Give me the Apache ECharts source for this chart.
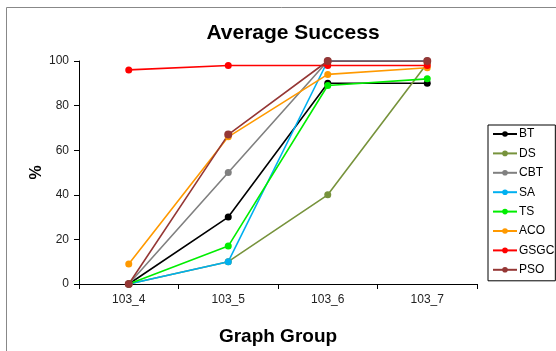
<!DOCTYPE html>
<html>
<head>
<meta charset="utf-8">
<script src="https://cdn.jsdelivr.net/npm/echarts@6/dist/echarts.min.js"></script>
<style>
  html, body { margin: 0; padding: 0; background: #fff; }
  #chart { width: 556px; height: 351px; }
</style>
</head>
<body>
<div id="chart"></div>
<script>
// Graph groups on the x axis
const groups = ['103_4', '103_5', '103_6', '103_7'];

// Average success (%) per algorithm
const BT   = [0, 30, 90, 90];
const DS   = [0, 10, 40, 99];
const CBT  = [0, 50, 100, 100];
const SA   = [0, 10, 100, 100];
const TS   = [0, 17, 89, 92];
const ACO  = [9, 66, 94, 97];
const GSGC = [96, 98, 98, 98];
const PSO  = [0, 67, 100, 100];

const yTicks = [0, 20, 40, 60, 80, 100];

const seriesDefs = [
  { name: 'BT',   data: BT,   color: '#000000' },
  { name: 'DS',   data: DS,   color: '#77933C' },
  { name: 'CBT',  data: CBT,  color: '#808080' },
  { name: 'SA',   data: SA,   color: '#00B0F0' },
  { name: 'TS',   data: TS,   color: '#00EE00' },
  { name: 'ACO',  data: ACO,  color: '#FF9900' },
  { name: 'GSGC', data: GSGC, color: '#FF0000' },
  { name: 'PSO',  data: PSO,  color: '#953735' }
];

const font = 'Liberation Sans, Arial, sans-serif';
const chart = echarts.init(document.getElementById('chart'), null, { renderer: 'canvas' });

chart.setOption({
  animation: false,
  backgroundColor: '#ffffff',
  textStyle: { fontFamily: font },
  grid: { left: 79, right: 79, top: 61, bottom: 66, containLabel: false },
  title: {
    text: 'Average Success',
    left: 288,
    top: 18,
    textAlign: 'center',
    textStyle: { fontFamily: font, fontSize: 21, fontWeight: 'bold', color: '#000' }
  },
  legend: {
    orient: 'vertical',
    left: 488,
    top: 125,
    padding: [3, 1, 5, 4],
    itemGap: 7.4,
    itemWidth: 24,
    itemHeight: 7,
    borderColor: '#000',
    borderWidth: 1,
    textStyle: { fontFamily: font, fontSize: 12, color: '#000', padding: [0, 0, 0, -3] },
    data: seriesDefs.map(s => s.name)
  },
  xAxis: {
    type: 'category',
    data: groups,
    boundaryGap: true,
    name: 'Graph Group',
    nameLocation: 'middle',
    nameGap: 43,
    nameMoveOverlap: false,
    nameTextStyle: { fontFamily: font, fontSize: 19, fontWeight: 'bold', color: '#000' },
    axisLine: { lineStyle: { color: '#000', width: 1 } },
    axisTick: { show: true, length: 5, inside: false, lineStyle: { color: '#000' } },
    axisLabel: { fontFamily: font, fontSize: 12, color: '#222', margin: 10 },
    splitLine: { show: false }
  },
  yAxis: {
    type: 'value',
    min: yTicks[0],
    max: yTicks[yTicks.length - 1],
    interval: yTicks[1] - yTicks[0],
    name: '%',
    nameLocation: 'middle',
    nameGap: 34,
    nameMoveOverlap: false,
    nameRotate: 90,
    nameTextStyle: { fontFamily: font, fontSize: 16, fontWeight: 'bold', color: '#000' },
    axisLine: { show: true, lineStyle: { color: '#000', width: 1 } },
    axisTick: { show: true, length: 5, inside: false, lineStyle: { color: '#000' } },
    axisLabel: { fontFamily: font, fontSize: 12, color: '#222', margin: 10 },
    splitLine: { show: false }
  },
  graphic: [
    {
      type: 'rect',
      shape: { x: 6.5, y: 7.5, width: 600, height: 400 },
      style: { fill: 'none', stroke: '#888', lineWidth: 1 },
      silent: true,
      z: -1
    }
  ],
  series: seriesDefs.map(s => ({
    name: s.name,
    type: 'line',
    data: s.data,
    symbol: 'circle',
    symbolSize: s.name === 'PSO' ? 8 : 7,
    showAllSymbol: true,
    lineStyle: { color: s.color, width: 1.6 },
    itemStyle: { color: s.color },
    emphasis: { disabled: true }
  }))
});
</script>
</body>
</html>
